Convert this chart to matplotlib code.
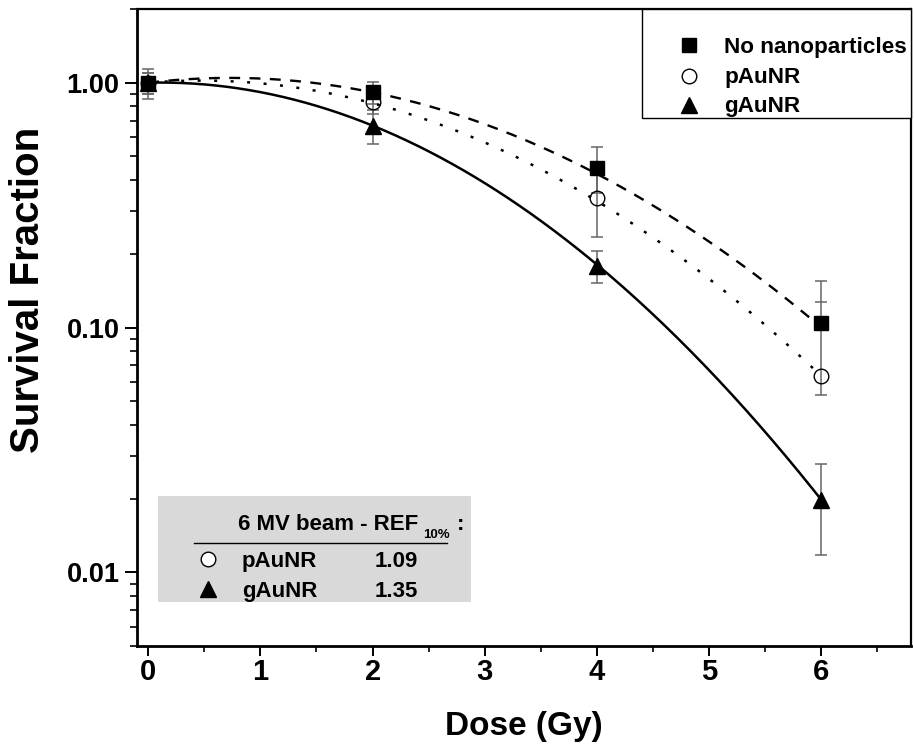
import numpy as np
import matplotlib
matplotlib.use('Agg')
import matplotlib.pyplot as plt
from matplotlib.lines import Line2D
from matplotlib.patches import Rectangle
from matplotlib.ticker import LogLocator, FixedLocator, FixedFormatter, MultipleLocator, NullFormatter

# ---------------- data ----------------
dose = [0, 2, 4, 6]
sf_none = [1.0, 0.913, 0.449, 0.104]
err_none = [0.14, 0.097, 0.095, 0.051]
sf_p = [1.0, 0.831, 0.338, 0.0635]
err_p = [0.10, 0.086, 0.104, 0.0635]
sf_g = [1.0, 0.668, 0.179, 0.0198]
err_g = [0.10, 0.104, 0.027, 0.008]

# linear-quadratic fit parameters (alpha, beta)
lq_none = (-0.1235, 0.0845)
lq_p = (-0.085, 0.0908)
lq_g = (-0.0242, 0.1130)

series_labels = ['No nanoparticles', 'pAuNR', 'gAuNR']
yticks = [0.01, 0.1, 1.0]
ytick_labels = ['0.01', '0.10', '1.00']
xticks = [0, 1, 2, 3, 4, 5, 6]
ref_title = '6 MV beam - REF'
ref_sub = '10%'
ref_names = ['pAuNR', 'gAuNR']
ref_values = ['1.09', '1.35']

# ---------------- figure ----------------
W, H = 914, 748
fig = plt.figure(figsize=(W / 100, H / 100), dpi=100)
L, R, T, B = 137, 911, 9, 646
ax = fig.add_axes([L / W, 1 - B / H, (R - L) / W, (B - T) / H])

REG = ['Liberation Sans', 'DejaVu Sans']

def px(x, y):
    return x / W, 1 - y / H

ebc = '#666666'
mk_style = {
    's': dict(marker='s', ms=9.5, mfc='black'),
    'o': dict(marker='o', ms=10.5, mfc='none'),
    '^': dict(marker='^', ms=12, mfc='black'),
}

def draw(sf, err, lq, mk, ls, lw):
    sf = np.asarray(sf, float)
    err = np.asarray(err, float)
    lo = np.where(sf - err > 0, err, np.nan)
    ax.errorbar(dose, sf, yerr=[lo, err], fmt='none', ecolor=ebc, elinewidth=1.1,
                capsize=4.5, capthick=1.1, zorder=2)
    d = np.linspace(0, 6, 300)
    a, b = lq
    ax.plot(d, np.exp(-(a * d + b * d ** 2)), color='black', lw=lw, linestyle=ls,
            zorder=3, solid_capstyle='butt')
    ax.plot(dose, sf, linestyle='none', mec='black', mew=1.0, zorder=4, **mk_style[mk])

draw(sf_none, err_none, lq_none, 's', (0, (4.6, 4.0)), 1.7)
draw(sf_p, err_p, lq_p, 'o', (0, (1.2, 5.4)), 1.8)
draw(sf_g, err_g, lq_g, '^', '-', 1.8)

ax.set_yscale('log')
ax.set_ylim(0.005, 2.0)
ax.set_xlim(-0.1, 6.8)

ax.yaxis.set_major_locator(FixedLocator(yticks))
ax.yaxis.set_major_formatter(FixedFormatter(ytick_labels))
ax.yaxis.set_minor_locator(LogLocator(base=10, subs=np.arange(2, 10)))
ax.yaxis.set_minor_formatter(NullFormatter())
ax.xaxis.set_major_locator(FixedLocator(xticks))
ax.xaxis.set_minor_locator(MultipleLocator(0.5))

for s in ['left', 'bottom']:
    ax.spines[s].set_linewidth(2.0)
for s in ['top', 'right']:
    ax.spines[s].set_linewidth(1.6)

ax.tick_params(axis='y', which='major', direction='out', length=8.5, width=1.4, pad=4)
ax.tick_params(axis='y', which='minor', direction='out', length=5, width=1.2)
ax.tick_params(axis='x', which='major', direction='out', length=7, width=1.4, pad=2)
ax.tick_params(axis='x', which='minor', direction='out', length=4.5, width=1.2)

for lab in ax.get_yticklabels():
    lab.set_fontfamily(REG)
    lab.set_fontweight('bold')
    lab.set_fontsize(19.5)
for lab in ax.get_xticklabels():
    lab.set_fontfamily(REG)
    lab.set_fontweight('bold')
    lab.set_fontsize(21)

ax.set_xlabel('Dose (Gy)', fontfamily=REG, fontweight='bold', fontsize=24, labelpad=18)
fig.text(*px(28, 290), 'Survival Fraction', rotation=90, ha='center', va='center',
         family=REG, weight='bold', fontsize=29)

# ---------------- legend (top right) ----------------
tp = dict(family=REG, weight='bold', transform=fig.transFigure)
lx0, ly0 = px(642, 118)
lx1, ly1 = px(911, 9)
fig.add_artist(Rectangle((lx0, ly0), lx1 - lx0, ly1 - ly0, transform=fig.transFigure,
                         facecolor='white', edgecolor='black', lw=1.0, zorder=5))
leg_rows = [(45, 53), (75.5, 83), (104.5, 112)]
for (my, by), lab, mk in zip(leg_rows, series_labels, ['s', 'o', '^']):
    mx, myf = px(689, my)
    st = dict(mk_style[mk])
    if st['mfc'] == 'none':
        st['mfc'] = 'white'
    fig.add_artist(Line2D([mx], [myf], transform=fig.transFigure, linestyle='none',
                          mec='black', mew=1.0, zorder=6, **st))
    fig.text(*px(724, by), lab, fontsize=16.2, ha='left', va='baseline', zorder=6, **tp)

# ---------------- REF inset box ----------------
x0, y0 = px(158, 602)
x1, y1 = px(471, 496)
fig.add_artist(Rectangle((x0, y0), x1 - x0, y1 - y0, transform=fig.transFigure,
                         facecolor='#d9d9d9', edgecolor='none', zorder=5))
fig.text(*px(238, 529.5), ref_title, fontsize=16, ha='left', va='baseline', zorder=6, **tp)
fig.text(*px(423, 538.5), ref_sub, fontsize=9.5, ha='left', va='baseline', zorder=6, **tp)
fig.text(*px(457, 529.5), ':', fontsize=16, ha='left', va='baseline', zorder=6, **tp)
ux0, uy = px(194, 543)
ux1, _ = px(447, 543)
fig.add_artist(Line2D([ux0, ux1], [uy, uy], transform=fig.transFigure, color='black',
                      lw=1.0, zorder=6))
rows = [(559, 567), (589, 597)]
for (my, by), name, val, mk in zip(rows, ref_names, ref_values, ['o', '^']):
    mx, myf = px(208, my)
    st = dict(mk_style[mk])
    if st['mfc'] == 'none':
        st['mfc'] = 'white'
    fig.add_artist(Line2D([mx], [myf], transform=fig.transFigure, linestyle='none',
                          mec='black', mew=1.0, zorder=6, **st))
    fig.text(*px(242, by), name, fontsize=16, ha='left', va='baseline', zorder=6, **tp)
    fig.text(*px(396, by), val, fontsize=16, ha='center', va='baseline', zorder=6, **tp)

fig.savefig('out.png', dpi=100)
